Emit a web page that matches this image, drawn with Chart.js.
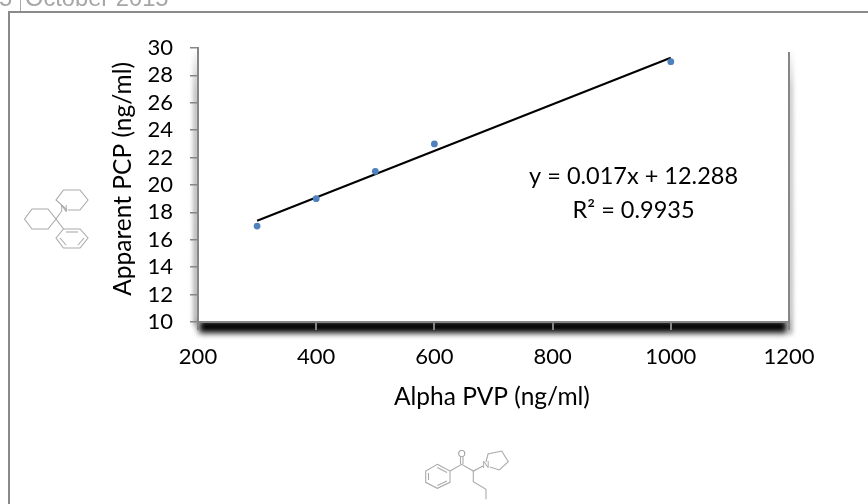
<!DOCTYPE html>
<html>
<head>
<meta charset="utf-8">
<title>Alpha PVP vs Apparent PCP</title>
<script src="https://cdn.jsdelivr.net/npm/chart.js@4"></script>
<style>
html,body{margin:0;padding:0;background:#fff;overflow:hidden}
#wrap{position:relative;width:868px;height:504px;overflow:hidden}
canvas{position:absolute;left:0;top:0}
.hdr{position:absolute;font-family:"Liberation Sans",Arial,sans-serif;font-size:23.7px;line-height:24px;color:#a6a6a6;white-space:pre}
</style>
</head>
<body>
<div id="wrap">
<canvas id="c" width="868" height="504"></canvas>
<div class="hdr" style="left:-1px;top:-14px">5</div>
<div class="hdr" style="left:25px;top:-14px">October 2015</div>
</div>
<script>
const alphaPvp = [300, 400, 500, 600, 1000];
const apparentPcp = [17, 19, 21, 23, 29];
const trendX = [300, 1000];
const trendY = [17.388, 29.288];
const xTitle = 'Alpha PVP (ng/ml)';
const yTitle = 'Apparent PCP (ng/ml)';
const equationLines = ['y = 0.017x + 12.288', 'R² = 0.9935'];

const FONT = 'Lato, Carlito, sans-serif';
const AXIS = '#868686';

function poly(ctx, pts, close){
  ctx.beginPath();
  pts.forEach((p,i)=> i ? ctx.lineTo(p[0],p[1]) : ctx.moveTo(p[0],p[1]));
  if(close) ctx.closePath();
  ctx.stroke();
}

const decor = {
  id:'decor',
  beforeDraw(chart){
    const ctx = chart.ctx, a = chart.chartArea;
    ctx.save();
    // page frame and header divider
    ctx.fillStyle = '#8a8a8a';
    ctx.fillRect(8,11,2,493);
    ctx.fillRect(8,11,860,2);
    ctx.fillStyle = '#a8a8a8';
    ctx.fillRect(20,0,1,11);
    // plot-area shadows
    ctx.filter = 'blur(3px)';
    ctx.fillStyle = '#000';
    ctx.fillRect(a.left+1, a.bottom-2, a.width-3, 13);
    ctx.filter = 'blur(2.5px)';
    const gl = ctx.createLinearGradient(0,a.top,0,a.bottom);
    gl.addColorStop(0,'rgba(130,130,130,0)');
    gl.addColorStop(0.15,'rgba(130,130,130,.75)');
    gl.addColorStop(1,'rgba(130,130,130,.9)');
    ctx.fillStyle = gl;
    ctx.fillRect(a.left-4, a.top+4, 4, a.height);
    ctx.fillRect(a.right, a.top+4, 3, a.height+8);
    ctx.filter = 'none';
    ctx.fillStyle = '#fff';
    ctx.fillRect(a.left, a.top, a.width, a.height);
    // molecules
    ctx.strokeStyle = '#aaaaaa';
    ctx.lineWidth = 1.1;
    poly(ctx,[[67,210],[56,200],[63.5,190],[80,190],[88,200],[80,210],[68,210]]);
    poly(ctx,[[24.5,219],[32,209],[48,209],[56,219],[48,229],[32,229]],true);
    poly(ctx,[[56,219],[61,212]]);
    poly(ctx,[[56,219],[63.5,229]]);
    poly(ctx,[[56,238],[63.5,229],[80,229],[88,238],[80,248],[63.5,248]],true);
    poly(ctx,[[66,232],[78,232]]);
    poly(ctx,[[84,238],[78,245]]);
    poly(ctx,[[60,238],[66,245]]);
    poly(ctx,[[437.3,464.3],[450,471],[450,482.3],[437.3,488.3],[425.7,482.3],[425.7,471]],true);
    poly(ctx,[[437.3,467.5],[447,472.5]]);
    poly(ctx,[[447,481],[437.3,485.5]]);
    poly(ctx,[[428.5,480],[428.5,473]]);
    poly(ctx,[[450,471],[461.7,464.3],[473.3,471],[483,466]]);
    poly(ctx,[[460.5,464],[460.5,457]]);
    poly(ctx,[[463,464],[463,457]]);
    poly(ctx,[[473.3,471],[473.3,481.7],[486,489.3],[486,499.3]]);
    poly(ctx,[[486,462],[488,454],[501.7,451],[508.3,461.7],[499.3,470],[490,467]]);
    ctx.fillStyle = '#999';
    ctx.textAlign='center'; ctx.textBaseline='middle';
    ctx.font = '9px '+FONT;
    ctx.fillText('N',64,209.5);
    ctx.fillText('N',486,465.5);
    ctx.font = '10px '+FONT;
    ctx.fillText('O',461.7,453.5);
    ctx.restore();
  },
  afterDraw(chart){
    const ctx = chart.ctx, a = chart.chartArea;
    ctx.save();
    ctx.fillStyle = '#000';
    ctx.font = '23.5px '+FONT;
    ctx.textAlign='center'; ctx.textBaseline='middle';
    const cx = chart.scales.x.getPixelForValue(937), y0 = chart.scales.y.getPixelForValue(20);
    ctx.fillText(equationLines[0], cx, y0-9);
    ctx.fillText(equationLines[1], cx, y0+25);
    ctx.fillStyle = AXIS;
    ctx.fillRect(a.right-1, a.top+4, 2, a.height-4);
    ctx.restore();
  }
};

new Chart(document.getElementById('c'), {
  type:'scatter',
  data:{datasets:[
    {label:'Trend', data:trendX.map((x,i)=>({x, y:trendY[i]})), showLine:true,
     borderColor:'#000', borderWidth:2, pointRadius:0, order:1},
    {label:'Apparent PCP', data:alphaPvp.map((x,i)=>({x, y:apparentPcp[i]})),
     backgroundColor:'#4f81bd', borderColor:'#4f81bd', pointRadius:3.4, pointBorderWidth:0, order:0}
  ]},
  options:{
    responsive:false, animation:false, devicePixelRatio:1,
    layout:{padding:{left:0,right:79,top:48,bottom:0}},
    plugins:{legend:{display:false},tooltip:{enabled:false}},
    scales:{
      x:{type:'linear',min:200,max:1200,
        afterFit(s){s.height=182;},
        ticks:{stepSize:200,color:'#000',font:{family:FONT,size:22},padding:14,maxRotation:0,callback:v=>String(v)},
        grid:{drawOnChartArea:false,color:AXIS,tickLength:8,lineWidth:2},
        border:{color:AXIS,width:2},
        title:{display:true,text:xTitle+'\u2009',color:'#000',font:{family:FONT,size:24.5},padding:{top:0,bottom:92}}
      },
      y:{type:'linear',min:10,max:30,
        afterFit(s){s.width=198;},
        ticks:{stepSize:2,color:'#000',font:{family:FONT,size:22},padding:17,autoSkip:false,callback:v=>String(v)},
        grid:{drawOnChartArea:false,color:AXIS,tickLength:8,lineWidth:1.5},
        border:{color:AXIS,width:2},
        title:{display:true,text:'\u2002'+yTitle,color:'#000',font:{family:FONT,size:24.5},padding:{top:108,bottom:0}}
      }
    }
  },
  plugins:[decor]
});
</script>
</body>
</html>
